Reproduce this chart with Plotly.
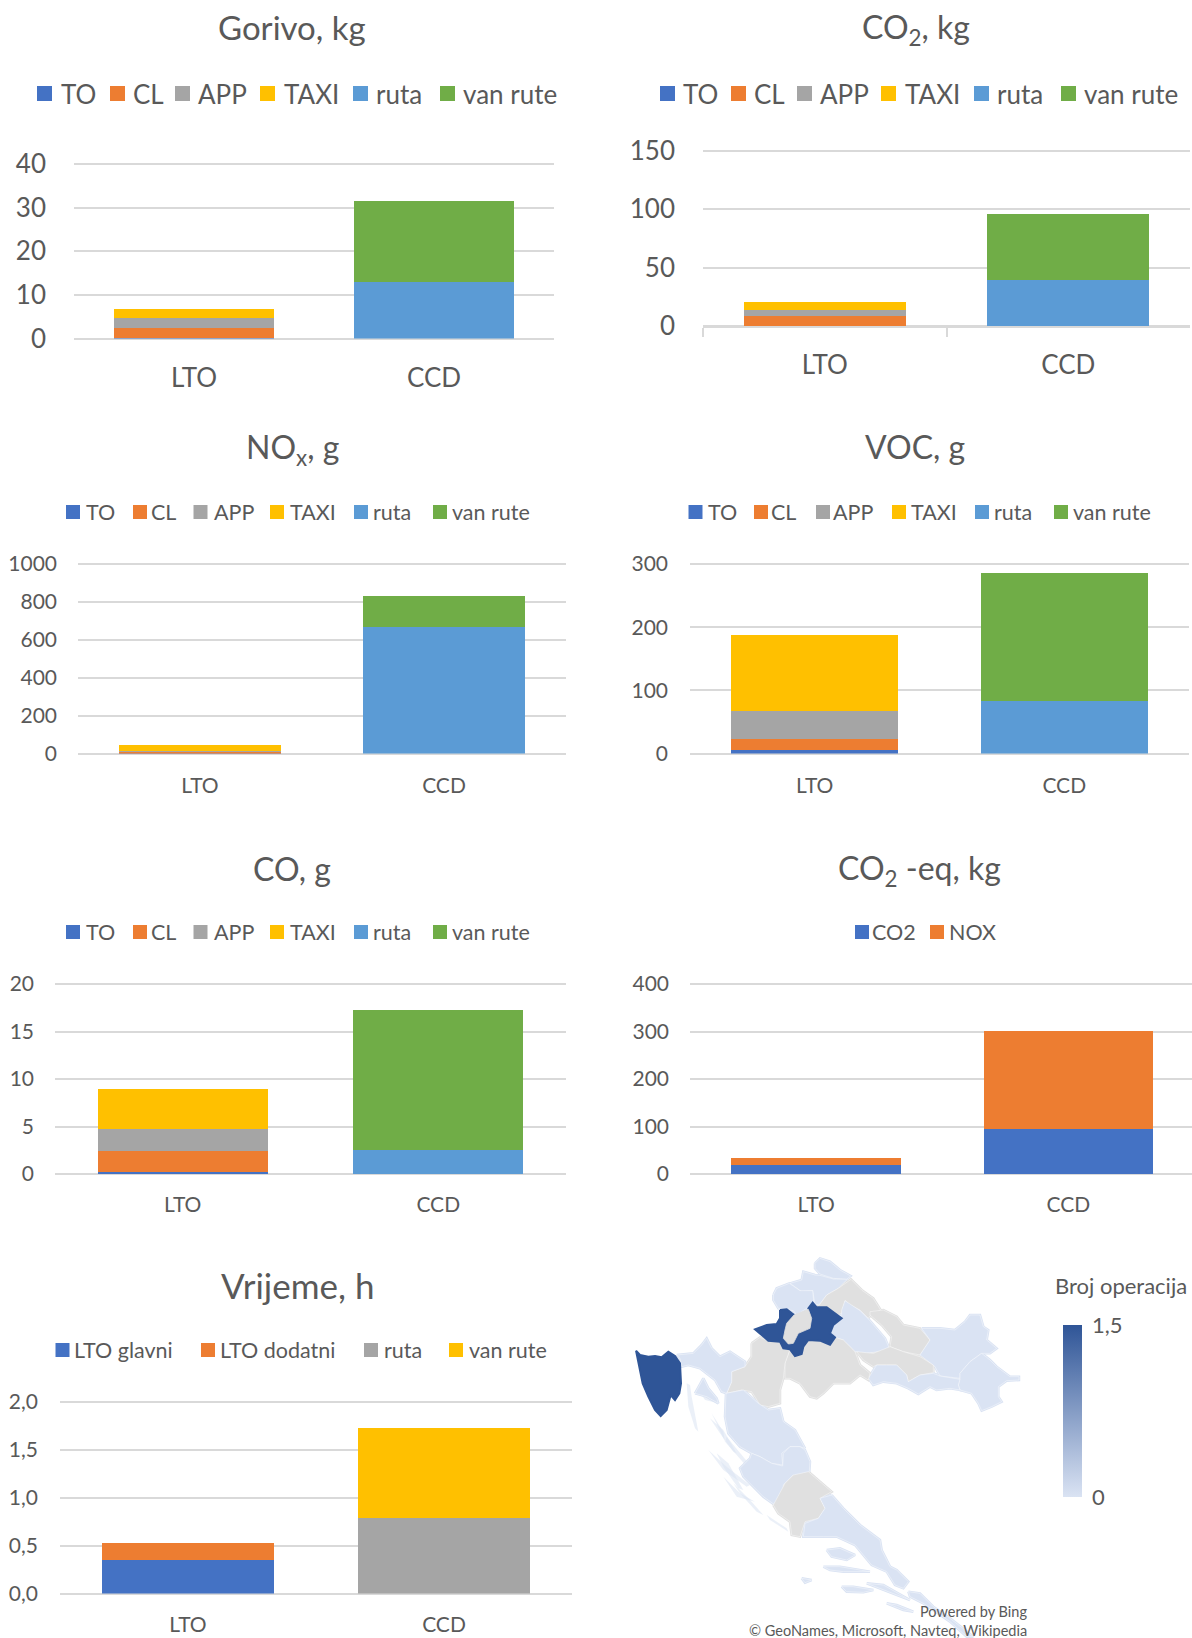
import plotly.graph_objects as go

W, H = 1192, 1638
FONT = "Lato, Carlito, Calibri, sans-serif"
TXT = "#595959"
GRID = "#D9D9D9"
C_BLUE, C_ORANGE, C_GRAY, C_YELLOW, C_LBLUE, C_GREEN = "#4472C4", "#ED7D31", "#A5A5A5", "#FFC000", "#5B9BD5", "#70AD47"

categories = ["LTO", "CCD"]
phase_names = ["TO", "CL", "APP", "TAXI", "ruta", "van rute"]
phase_colors = [C_BLUE, C_ORANGE, C_GRAY, C_YELLOW, C_LBLUE, C_GREEN]

gorivo_to = [0.1, 0]
gorivo_cl = [2.4, 0]
gorivo_app = [2.15, 0]
gorivo_taxi = [2.0, 0]
gorivo_ruta = [0, 12.9]
gorivo_van = [0, 18.6]

co2_to = [0.3, 0]
co2_cl = [8.0, 0]
co2_app = [5.5, 0]
co2_taxi = [6.7, 0]
co2_ruta = [0, 39.5]
co2_van = [0, 56.2]

nox_to = [2, 0]
nox_cl = [10, 0]
nox_app = [1, 0]
nox_taxi = [33, 0]
nox_ruta = [0, 667]
nox_van = [0, 164]

voc_to = [5, 0]
voc_cl = [18, 0]
voc_app = [45, 0]
voc_taxi = [120, 0]
voc_ruta = [0, 83]
voc_van = [0, 202]

co_to = [0.2, 0]
co_cl = [2.26, 0]
co_app = [2.3, 0]
co_taxi = [4.14, 0]
co_ruta = [0, 2.5]
co_van = [0, 14.75]

eq_names = ["CO2", "NOX"]
eq_colors = [C_BLUE, C_ORANGE]
eq_co2 = [20, 94]
eq_nox = [13, 208]

time_names = ["LTO glavni", "LTO dodatni", "ruta", "van rute"]
time_colors = [C_BLUE, C_ORANGE, C_GRAY, C_YELLOW]
time_glavni = [0.35, 0]
time_dodatni = [0.18, 0]
time_ruta = [0, 0.79]
time_van = [0, 0.935]

# Map outlines, in map units (3 units = 1 screen pixel)
def shift(pts, dx, dy):
    return [(x + dx, y + dy) for x, y in pts]

istra = [(48,302),(60,315),(85,320),(105,318),(125,322),(145,305),(165,318),(180,340),(183,400),(178,430),(165,450),(152,435),(140,480),(122,498),(105,480),(85,440),(68,400),(58,350)]
medimurje = [(585,40),(600,25),(630,35),(660,60),(692,78),(680,88),(640,85),(600,72),(585,55)]
varazdin = [(510,100),(545,90),(550,65),(585,75),(600,76),(640,87),(682,88),(655,115),(620,135),(600,162),(585,165),(578,122),(545,125)]
krapina = [(460,135),(470,115),(508,100),(540,122),(578,122),(582,165),(560,175),(530,195),(520,182),(490,178),(475,175),(460,150)]
zagreb_grad = [(522,195),(565,178),(575,205),(570,235),(535,250),(520,280),(505,282),(490,265),(495,240),(500,220)]
zagreb_zup = [(480,180),(500,178),(522,195),(500,220),(495,240),(490,265),(505,282),(520,280),(535,250),(570,235),(575,205),(565,175),(578,158),(590,172),(620,172),(650,195),(665,205),(640,225),(630,250),(645,262),(630,284),(600,272),(565,270),(550,290),(545,312),(525,318),(510,298),(490,295),(480,275),(445,272),(405,238),(440,225),(470,222),(480,205)]
koprivnica = [(598,165),(620,135),(655,115),(693,88),(725,120),(760,145),(782,180),(752,195),(745,205),(720,180),(690,165),(675,152),(665,190),(650,195),(620,172),(590,172)]
bjelovar = [(675,152),(690,162),(720,182),(748,210),(775,240),(795,265),(810,300),(770,305),(740,310),(705,305),(670,270),(645,262),(632,250),(640,225),(665,205),(665,180)]
virovitica = shift([(90,185),(130,180),(170,200),(190,225),(240,235),(270,270),(240,315),(190,305),(150,290),(155,260),(125,225),(90,195)], 660, 0)
osijek = shift([(245,235),(300,235),(345,240),(375,215),(390,195),(420,195),(430,230),(445,240),(440,270),(470,295),(450,310),(425,310),(390,335),(360,370),(360,385),(300,378),(285,350),(240,315),(270,270)], 660, 0)
vukovar = shift([(360,385),(360,370),(390,335),(425,310),(450,330),(470,350),(510,380),(537,380),(537,390),(500,392),(475,410),(475,440),(485,455),(455,470),(425,482),(415,460),(395,430),(360,420),(355,405)], 660, 0)
pozega = shift([(50,305),(100,310),(150,290),(190,305),(240,320),(280,345),(280,368),(240,375),(205,395),(200,375),(170,345),(140,345),(110,345),(100,350),(70,330)], 660, 0)
brod = shift([(85,385),(110,345),(140,345),(170,345),(200,375),(205,395),(240,375),(280,370),(300,378),(360,388),(355,405),(360,420),(330,415),(290,420),(270,410),(235,432),(205,415),(170,400),(130,395),(100,405)], 660, 0)
sisak = [(495,340),(510,298),(525,318),(545,312),(550,290),(565,270),(600,272),(630,284),(645,262),(670,270),(705,305),(720,345),(750,370),(745,390),(720,375),(690,400),(640,400),(610,430),(590,445),(570,440),(540,400),(510,385),(495,385)]
karlovac = [(395,280),(420,262),(445,272),(480,275),(490,295),(510,298),(495,340),(490,385),(480,420),(480,460),(445,470),(420,465),(395,425),(365,420),(320,430),(335,395),(335,365),(375,350),(395,320)]
primorje = [(170,315),(220,310),(245,285),(260,265),(275,295),(300,320),(330,305),(375,335),(375,350),(335,365),(335,395),(320,430),(305,425),(285,390),(240,355),(205,345),(185,350),(180,325)]
krk = [(225,430),(250,385),(265,415),(290,445),(295,460),(260,440)]
lika = shift([(78,10),(130,0),(175,40),(205,60),(240,55),(250,95),(285,120),(300,150),(315,175),(300,170),(270,170),(245,190),(248,225),(215,220),(180,200),(155,190),(120,170),(85,130),(75,80)], 240, 420)
zadar = shift([(155,190),(180,200),(215,220),(248,228),(250,190),(270,170),(300,170),(315,180),(330,215),(328,245),(300,270),(280,255),(250,285),(250,320),(225,345),(190,320),(130,260),(120,235),(150,205)], 240, 420)
sibenik = shift([(250,225),(285,160),(310,135),(355,125),(425,185),(390,205),(405,235),(385,265),(345,275),(330,320),(305,315),(300,275),(265,250)], 210, 540)
split = shift([(425,195),(460,235),(510,285),(570,330),(575,360),(600,410),(620,420),(655,455),(640,475),(615,465),(590,425),(545,405),(495,345),(440,320),(400,320),(340,320),(345,280),(385,265),(405,235),(390,205)], 210, 540)
dubrovnik = shift([(655,485),(690,490),(730,530),(780,565),(825,600),(850,620),(830,620),(780,575),(700,520),(660,500)], 210, 540)
peljesac = shift([(530,460),(580,465),(660,510),(610,490)], 210, 540)
brac = shift([(410,360),(450,355),(495,375),(470,390),(425,380)], 210, 540)
hvar = shift([(400,410),(450,410),(540,425),(460,425),(420,420)], 210, 540)
korcula = shift([(455,470),(490,470),(550,480),(520,487),(470,485)], 210, 540)
vis = shift([(335,445),(365,450),(345,458)], 210, 540)
mljet = shift([(590,520),(620,525),(670,545),(640,540)], 210, 540)
cres = shift([(140,40),(150,45),(155,80),(175,185),(165,175),(145,110)], 60, 360)
pag = shift([(215,130),(250,185),(255,215),(235,170)], 60, 360)
ugljan = shift([(260,200),(330,285),(325,295),(255,215)], 60, 360)
dugi = shift([(205,240),(260,290),(330,345),(320,350),(250,300)], 60, 360)
kornati = shift([(250,320),(300,370),(345,395),(290,380)], 60, 360)
streak_a = shift([(5,15),(50,35),(55,40),(15,30)], 240, 420)
streak_b = shift([(30,85),(70,120),(110,190),(100,185),(60,130)], 240, 420)
streak_c = shift([(50,190),(85,220),(130,300),(115,295),(70,230)], 240, 420)
streak_d = shift([(100,280),(150,330),(190,375),(170,365),(120,310)], 240, 420)
streak_e = shift([(230,255),(290,295),(295,305),(240,270)], 210, 540)

county_shapes = [
    ("Međimurje", medimurje, 0), ("Varaždin", varazdin, 0), ("Krapina", krapina, 0),
    ("Koprivnica", koprivnica, None), ("Bjelovar", bjelovar, 0),
    ("Virovitica", virovitica, None), ("Osijek", osijek, 0), ("Vukovar", vukovar, 0), ("Požega", pozega, None),
    ("Brod", brod, 0), ("Sisak", sisak, None), ("Karlovac", karlovac, None),
    ("Primorje", primorje, 0), ("Krk", krk, 0), ("Lika", lika, 0), ("Zadar", zadar, 0), ("Šibenik", sibenik, None),
    ("Split", split, 0), ("Dubrovnik", dubrovnik, 0), ("Pelješac", peljesac, 0), ("Brač", brac, 0), ("Hvar", hvar, 0),
    ("Korčula", korcula, 0), ("Vis", vis, 0), ("Mljet", mljet, 0),
]
dark_shapes = [("Istra", istra, 1.5), ("Zagreb", zagreb_zup, 1.5)]
city_shapes = [("Zagreb grad", zagreb_grad, None)]
pale_islands = [cres, pag, ugljan, dugi, kornati, streak_a, streak_b, streak_c, streak_d, streak_e]
LIGHT, DARK, NODATA = (218, 227, 243), (47, 85, 151), "#E0E0E0"

# panel geometry in screen pixels: left, right, top (first gridline), bottom (zero line)
panels = [
    dict(title="Gorivo, kg", box=(74, 554, 164, 338.5), tx=292, ty=26.5, tsize=33, ymax=40, dtick=10, fmt="d", names=phase_names, colors=phase_colors,
         vals=[gorivo_to, gorivo_cl, gorivo_app, gorivo_taxi, gorivo_ruta, gorivo_van], gap=0.333, tick=26, yoff=27, xoff=21, boundary=False, xhi=1.5,
         sw=[37,110,175,260,353,440], tl=[60,132,197,283,375,462], ly=93.5, lsize=26, ss=15),
    dict(title="CO<sub>2</sub>, kg", box=(703, 1190, 151, 326), tx=916, ty=29, tsize=32, ymax=150, dtick=50, fmt="d", names=phase_names, colors=phase_colors,
         vals=[co2_to, co2_cl, co2_app, co2_taxi, co2_ruta, co2_van], gap=0.333, tick=26, yoff=27, xoff=15, boundary=True, xhi=1.5,
         sw=[660,731,797,881,974,1061], tl=[682,753,819,904,996,1083], ly=93.5, lsize=26, ss=15),
    dict(title="NO<sub>x</sub>, g", box=(78, 566, 564, 753.5), tx=292, ty=449, tsize=32, ymax=1000, dtick=200, fmt="d", names=phase_names, colors=phase_colors,
         vals=[nox_to, nox_cl, nox_app, nox_taxi, nox_ruta, nox_van], gap=0.337, tick=21, yoff=20, xoff=17, boundary=False, xhi=1.5,
         sw=[66,133,193.5,270,354,433], tl=[85,150,212.5,289,372,451], ly=512, lsize=21.5, ss=14),
    dict(title="VOC, g", box=(690, 1189, 564, 753.5), tx=915, ty=446.5, tsize=32, ymax=300, dtick=100, fmt="d", names=phase_names, colors=phase_colors,
         vals=[voc_to, voc_cl, voc_app, voc_taxi, voc_ruta, voc_van], gap=0.33, tick=21, yoff=21, xoff=17, boundary=False, xhi=1.5,
         sw=[688.5,754,816,892,975,1054], tl=[707,770,832,910,993,1072], ly=512, lsize=21.5, ss=14),
    dict(title="CO, g", box=(55, 566, 984, 1174), tx=292, ty=868, tsize=32, ymax=20, dtick=5, fmt="d", names=phase_names, colors=phase_colors,
         vals=[co_to, co_cl, co_app, co_taxi, co_ruta, co_van], gap=0.336, tick=21, yoff=20, xoff=16, boundary=False, xhi=1.5,
         sw=[66,133,193.5,270,354,433], tl=[85,150,212.5,289,372,451], ly=932, lsize=21.5, ss=14),
    dict(title="CO<sub>2</sub> -eq, kg", box=(690, 1192, 984, 1174), tx=919, ty=869.5, tsize=32, ymax=400, dtick=100, fmt="d", names=eq_names, colors=eq_colors,
         vals=[eq_co2, eq_nox], gap=0.327, tick=21, yoff=20, xoff=16, boundary=False, xhi=1.49,
         sw=[855,930], tl=[871,948], ly=932, lsize=21.5, ss=14),
    dict(title="Vrijeme, h", box=(60, 572, 1402, 1593.5), tx=297, ty=1285, tsize=35, ymax=2, dtick=0.5, fmt=".1f", names=time_names, colors=time_colors,
         vals=[time_glavni, time_dodatni, time_ruta, time_van], gap=0.33, tick=21, yoff=21, xoff=16, boundary=False, xhi=1.5,
         sw=[55.5,201,364,449], tl=[73,218.5,383.5,467.5], ly=1350, lsize=21.5, ss=14),
]

def px(x):
    return x / W

def py(y):
    return 1 - y / H

fig = go.Figure()
layout = dict(
    width=W, height=H, margin=dict(l=0, r=0, t=0, b=0, autoexpand=False), paper_bgcolor="white", plot_bgcolor="white",
    barmode="stack", separators=",.", font=dict(family=FONT, color=TXT), annotations=[], shapes=[], showlegend=False,
)
HEAD = 4  # pixels of headroom above the first gridline, so that it is drawn

for i, p in enumerate(panels, start=1):
    xname = f"x{i}" if i > 1 else "x"
    yname = f"y{i}" if i > 1 else "y"
    l, r, t, b = p["box"]
    for nm, col, v in zip(p["names"], p["colors"], p["vals"]):
        fig.add_trace(go.Bar(x=categories, y=v, name=nm, marker=dict(color=col, line=dict(width=0)),
                             xaxis=xname, yaxis=yname, width=1 - p["gap"]))
    xaxis = dict(domain=[px(l), px(r)], anchor=yname, type="category", range=[-0.5, p["xhi"]], showgrid=False,
                 tickfont=dict(size=p["tick"], color=TXT), showline=False, ticks="", zeroline=False,
                 ticklabelstandoff=p["xoff"], automargin=False)
    if p["boundary"]:
        xaxis.update(showline=True, linecolor=GRID, linewidth=2, ticks="outside", ticklen=9, tickcolor=GRID, tickwidth=2,
                     tickson="boundaries")
    yaxis = dict(domain=[py(b), py(t - HEAD)], anchor=xname, range=[0, p["ymax"] * (1 + HEAD / (b - t))], dtick=p["dtick"], tick0=0,
                 tickformat=p["fmt"], showgrid=True, gridcolor=GRID, gridwidth=2, zeroline=True, zerolinecolor=GRID, zerolinewidth=2,
                 tickfont=dict(size=p["tick"], color=TXT), ticks="", showline=False, ticklabelstandoff=p["yoff"], fixedrange=True, automargin=False)
    key = "" if i == 1 else str(i)
    layout["xaxis" + key] = xaxis
    layout["yaxis" + key] = yaxis
    layout["annotations"].append(dict(text=p["title"], x=px(p["tx"]), y=py(p["ty"]), xref="paper", yref="paper",
                                      xanchor="center", yanchor="middle", showarrow=False,
                                      font=dict(size=p["tsize"], color=TXT)))
    # legend row
    for nm, col, sx, tx in zip(p["names"], p["colors"], p["sw"], p["tl"]):
        s = p["ss"]
        layout["shapes"].append(dict(type="rect", xref="paper", yref="paper", x0=px(sx), x1=px(sx + s),
                                     y0=py(p["ly"] - s / 2), y1=py(p["ly"] + s / 2), fillcolor=col, line=dict(width=0)))
        layout["annotations"].append(dict(text=nm, x=px(tx), y=py(p["ly"]), xref="paper", yref="paper", xanchor="left",
                                          yanchor="middle", showarrow=False, borderpad=0, font=dict(size=p["lsize"], color=TXT)))

# map panel
def map_color(v):
    if v is None:
        return NODATA
    f = v / 1.5
    return "rgb(%d,%d,%d)" % tuple(round(a + (b - a) * f) for a, b in zip(LIGHT, DARK))

def closed(pts):
    return [q[0] for q in pts] + [pts[0][0]], [q[1] for q in pts] + [pts[0][1]]

def add_county(nm, pts, val, line):
    xs, ys = closed(pts)
    fig.add_trace(go.Scatter(x=xs, y=ys, mode="lines", name=nm, fill="toself", fillcolor=map_color(val), line=line,
                             hoverinfo="name", xaxis="x8", yaxis="y8"))

for isl in pale_islands:
    xs, ys = closed(isl)
    fig.add_trace(go.Scatter(x=xs, y=ys, mode="lines", fill="toself", fillcolor="rgba(218,227,243,0.55)", line=dict(width=0),
                             hoverinfo="skip", xaxis="x8", yaxis="y8"))
# first pass closes the hairline gaps between neighbouring counties, second pass adds the faint borders
for nm, pts, val in county_shapes:
    add_county(nm, pts, val, dict(width=2.5, color=map_color(val)))
for nm, pts, val in county_shapes:
    add_county(nm, pts, val, dict(width=0.8, color="rgba(255,255,255,0.5)"))
for nm, pts, val in dark_shapes:
    add_county(nm, pts, val, dict(width=2, color=map_color(val)))
for nm, pts, val in city_shapes:
    add_county(nm, pts, val, dict(width=0.8, color=map_color(val)))

colorbar_values = [0, 1.5]
fig.add_trace(go.Scatter(x=[-9000, -9000], y=[-9000, -9000], mode="markers", hoverinfo="skip", xaxis="x8", yaxis="y8",
                         marker=dict(color=colorbar_values, cmin=0, cmax=1.5, size=1,
                                     colorscale=[[0, "rgb(218,227,243)"], [1, "rgb(47,85,151)"]],
                                     colorbar=dict(x=px(1063), xanchor="left", xpad=0, y=py(1325), yanchor="top", ypad=0,
                                                   thickness=19, thicknessmode="pixels", len=172, lenmode="pixels",
                                                   tickvals=[0, 1.5], ticktext=["0", "1,5"], ticks="outside", ticklen=6,
                                                   tickcolor="rgba(0,0,0,0)", outlinewidth=0,
                                                   tickfont=dict(size=22, color=TXT)))))
layout["xaxis8"] = dict(domain=[px(610), px(1050)], range=[-30, 1290], anchor="y8", visible=False, fixedrange=True)
layout["yaxis8"] = dict(domain=[py(1638), py(1240)], range=[1164, -30], anchor="x8", visible=False, fixedrange=True)
layout["annotations"] += [
    dict(text="Broj operacija", x=px(1054), y=py(1285), xref="paper", yref="paper", xanchor="left", yanchor="middle",
         showarrow=False, borderpad=0, font=dict(size=22, color=TXT)),
    dict(text="Powered by Bing", x=px(1029), y=py(1611), xref="paper", yref="paper", xanchor="right", yanchor="middle",
         showarrow=False, font=dict(size=14.5, color=TXT)),
    dict(text="© GeoNames, Microsoft, Navteq, Wikipedia", x=px(1029), y=py(1630), xref="paper", yref="paper", xanchor="right",
         yanchor="middle", showarrow=False, font=dict(size=14.5, color=TXT)),
]
fig.update_layout(**layout)
fig.write_html("out.html", config=dict(displayModeBar=False),
               post_script="document.body.style.margin='0';document.body.style.overflow='hidden';")
